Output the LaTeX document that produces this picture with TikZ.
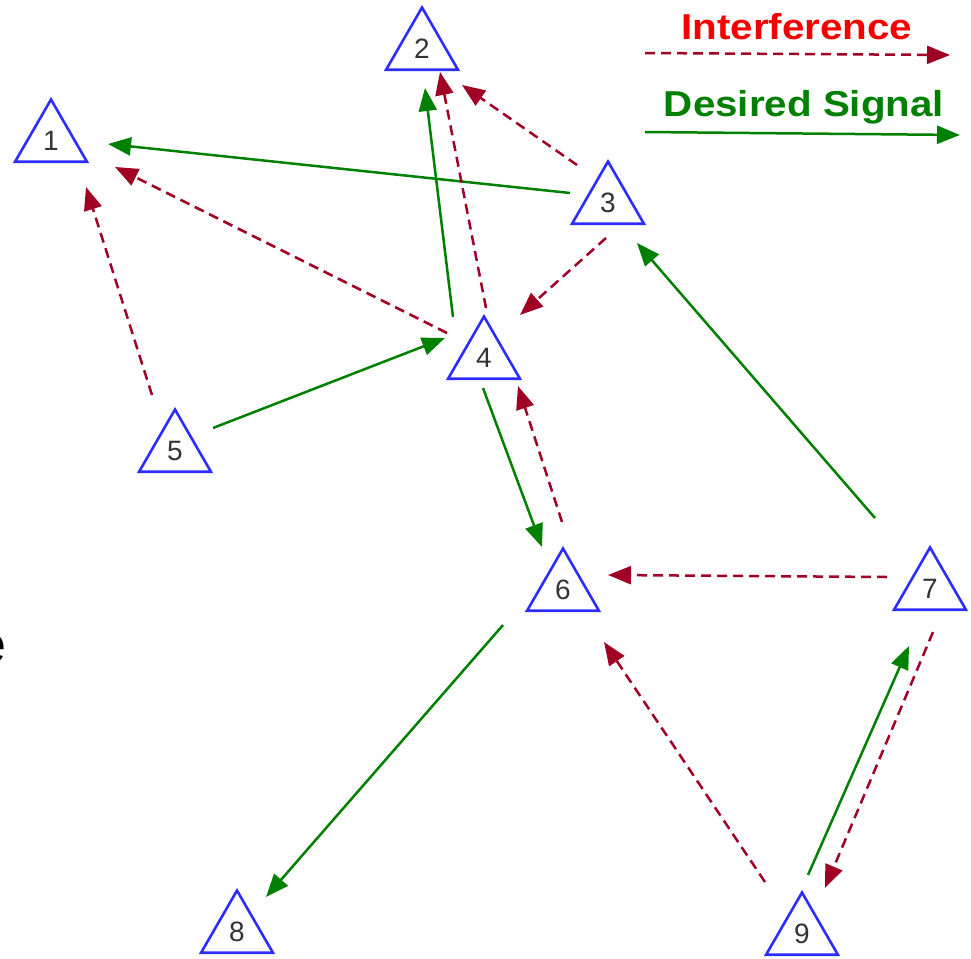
\documentclass[tikz,border=0pt]{standalone}
\usepackage{fontspec}
\setmainfont{Liberation Sans}
\usetikzlibrary{shapes.geometric,arrows.meta,calc}
\definecolor{nodeblue}{RGB}{45,45,255}
\definecolor{sigreen}{RGB}{0,128,0}
\definecolor{ifred}{RGB}{160,0,35}
\definecolor{labelred}{RGB}{245,0,0}
\begin{document}
\begin{tikzpicture}[x=1pt,y=-1pt,
  station/.style={regular polygon, regular polygon sides=3, draw=nodeblue,
    line width=2.6pt, fill=white, minimum size=83pt, inner sep=0pt,
    text=black!80, font=\fontsize{28}{28}\selectfont},
  desired/.style={draw=sigreen, line width=2.5pt,
    -{Triangle[length=23pt,width=18pt]}},
  interf/.style={draw=ifred, line width=2.5pt, dash pattern=on 10pt off 6pt,
    -{Triangle[length=23pt,width=18pt]}},
  legendtext/.style={inner sep=0pt, anchor=base,
    font=\fontsize{36}{36}\selectfont\bfseries},
]
\useasboundingbox (0,0) rectangle (971,958);

% stations
\node[station] (n1) at (51,141) {1};
\node[station] (n2) at (422,49) {2};
\node[station] (n3) at (608,203) {3};
\node[station] (n4) at (484,358) {4};
\node[station] (n5) at (175,451) {5};
\node[station] (n6) at (563,590) {6};
\node[station] (n7) at (930,589) {7};
\node[station] (n8) at (237,932) {8};
\node[station] (n9) at (802,934) {9};

% desired signal links
\draw[desired] ($(n3)+(-38,-10)$) -- ($(n1)+(57,3)$);
\draw[desired] ($(n4)+(-31,-41)$) -- ($(n2)+(3,39)$);
\draw[desired] ($(n5)+(38,-23)$) -- ($(n4)+(-39,-20)$);
\draw[desired] ($(n4)+(-1,30)$) -- ($(n6)+(-21,-43)$);
\draw[desired] ($(n7)+(-55,-71)$) -- ($(n3)+(29,40)$);
\draw[desired] ($(n6)+(-60,35)$) -- ($(n8)+(29,-35)$);
\draw[desired] ($(n9)+(6,-59)$) -- ($(n7)+(-21,57)$);

% interference links
\draw[interf] ($(n3)+(-31,-38)$) -- ($(n2)+(40,36)$);
\draw[interf] ($(n4)+(2,-50)$) -- ($(n2)+(18,23)$);
\draw[interf] ($(n4)+(-37,-25)$) -- ($(n1)+(64,26)$);
\draw[interf] ($(n5)+(-23,-56)$) -- ($(n1)+(35,46)$);
\draw[interf] ($(n3)+(-2,35)$) -- ($(n4)+(36,-43)$);
\draw[interf] ($(n6)+(-1,-68)$) -- ($(n4)+(34,28)$);
\draw[interf] ($(n7)+(-43,-12)$) -- ($(n6)+(45,-15)$);
\draw[interf] ($(n9)+(-37,-52)$) -- ($(n6)+(41,52)$);
\draw[interf] ($(n7)+(3,43)$) -- ($(n9)+(23,-46)$);

% legend
\node[legendtext, text=labelred] (lgi) at (797,40) {\scalebox{1.12}[1]{Interference}};
\coordinate (lgia) at (645,53);
\coordinate (lgib) at (950,55);
\draw[interf] (lgia) -- (lgib);
\node[legendtext, text=sigreen] (lgd) at (804,116) {\scalebox{1.12}[1]{Desired Signal}};
\coordinate (lgda) at (645,132);
\coordinate (lgdb) at (960,135);
\draw[desired] (lgda) -- (lgdb);

% letter cut by the left edge
\node[inner sep=0pt, anchor=base east, font=\fontsize{52}{52}\selectfont] (edge) at (7,662) {e};
\end{tikzpicture}
\end{document}
